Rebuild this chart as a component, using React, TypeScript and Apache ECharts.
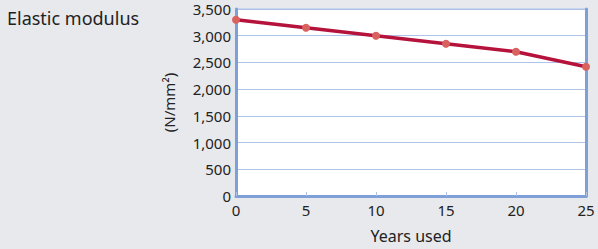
import React, { useEffect, useRef } from "react";
import * as echarts from "echarts";

const years = [0, 5, 10, 15, 20, 25];
const modulus = [3300, 3150, 3000, 2850, 2700, 2420];
const title = "Elastic modulus";
const yName = "(N/mm²)";
const xName = "Years used";

const FONT = "'Noto Sans', sans-serif";
const AXIS_BLUE = "#7f9fd9";
const GRID_BLUE = "#adc3e8";

export default function App() {
  const ref = useRef<HTMLDivElement>(null);
  useEffect(() => {
    if (!ref.current) return;
    const chart = echarts.init(ref.current, undefined, { renderer: "svg" });
    chart.setOption({
      animation: false,
      backgroundColor: "#e8e9ed",
      title: {
        text: title,
        left: 2,
        top: 4,
        textStyle: { fontFamily: FONT, fontSize: 18, fontWeight: "normal", color: "#222" },
      },
      grid: {
        left: 236,
        right: 12,
        top: 9,
        bottom: 49,
        show: true,
        backgroundColor: "#ffffff",
        borderColor: GRID_BLUE,
        borderWidth: 1,
      },
      xAxis: {
        type: "value",
        min: 0,
        max: 25,
        interval: 5,
        name: xName,
        nameLocation: "middle",
        nameGap: 32,
        nameTextStyle: { fontFamily: FONT, fontSize: 16, color: "#222" },
        axisLine: { show: true, lineStyle: { color: AXIS_BLUE, width: 3 } },
        axisTick: { show: true, inside: true, length: 4, lineStyle: { color: GRID_BLUE, width: 1 } },
        axisLabel: { fontFamily: FONT, fontSize: 15, color: "#222", margin: 6 },
        splitLine: { show: false },
      },
      yAxis: [
        {
          type: "value",
          min: 0,
          max: 3500,
          interval: 500,
          name: yName,
          nameLocation: "middle",
          nameGap: 60,
          nameTextStyle: { fontFamily: FONT, fontSize: 15, color: "#222" },
          axisLine: { show: true, lineStyle: { color: AXIS_BLUE, width: 3 } },
          axisTick: { show: false },
          axisLabel: {
            fontFamily: FONT,
            fontSize: 15,
            color: "#222",
            margin: 5,
            formatter: (v: number) => v.toLocaleString("en-US"),
          },
          splitLine: { show: true, lineStyle: { color: GRID_BLUE, width: 1 } },
        },
        {
          type: "value",
          min: 0,
          max: 3500,
          interval: 500,
          position: "right",
          axisLine: { show: true, lineStyle: { color: AXIS_BLUE, width: 3 } },
          axisTick: { show: false },
          axisLabel: { show: false },
          splitLine: { show: false },
        },
      ],
      series: [
        {
          type: "line",
          data: years.map((y, i) => [y, modulus[i]]),
          lineStyle: { color: "#b5123c", width: 3.5 },
          itemStyle: { color: "#d9625f" },
          symbol: "circle",
          symbolSize: 8,
          clip: false,
        },
      ],
    });
    return () => chart.dispose();
  }, []);
  return <div ref={ref} style={{ width: 598, height: 249, position: "absolute", left: 0, top: 0 }} />;
}
